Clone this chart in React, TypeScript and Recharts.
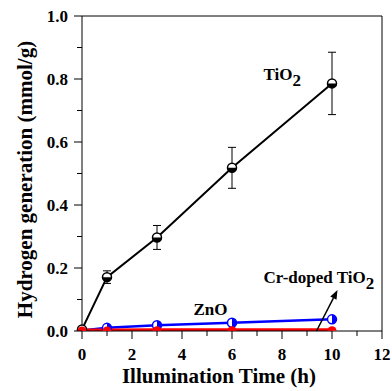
import React from 'react';
import {
  ComposedChart,
  Line,
  XAxis,
  YAxis,
  ErrorBar,
  ReferenceLine,
  ReferenceDot
} from 'recharts';

const hours = [0, 1, 3, 6, 10];
const tio2 = [0.005, 0.171, 0.297, 0.518, 0.786];
const tio2Err = [0, 0.02, 0.038, 0.065, 0.099];
const zno = [0.002, 0.01, 0.018, 0.026, 0.037];
const crTio2 = [0.003, 0.003, 0.004, 0.004, 0.004];

const xTicks = [0, 1, 2, 3, 4, 5, 6, 7, 8, 9, 10, 11, 12];
const xMajor = [0, 2, 4, 6, 8, 10, 12];
const yTicks = [0, 0.1, 0.2, 0.3, 0.4, 0.5, 0.6, 0.7, 0.8, 0.9, 1.0];
const yMajor = ['0.0', '0.2', '0.4', '0.6', '0.8', '1.0'];

const data = hours.map((h, i) => ({
  h,
  tio2: tio2[i],
  err: tio2Err[i],
  zno: zno[i],
  cr: crTio2[i]
}));

const txt = { fontFamily: 'Liberation Serif', fontWeight: 700 } as React.CSSProperties;
const TICK_SIZE = 6;
const TICK_MARGIN = 3;

const XTick = (props: any) => {
  const { x, y, payload } = props;
  const axisY = y - TICK_SIZE - TICK_MARGIN;
  const major = xMajor.includes(payload.value);
  return (
    <g>
      <line x1={x} x2={x} y1={axisY} y2={axisY + (major ? 8 : 5)} stroke="#000" strokeWidth={1} />
      {major && (
        <text x={x} y={axisY + 29} textAnchor="middle" style={{ ...txt, fontSize: 17 }} fill="#000">
          {payload.value}
        </text>
      )}
    </g>
  );
};

const YTick = (props: any) => {
  const { x, y, payload } = props;
  const axisX = x + TICK_SIZE + TICK_MARGIN;
  const label = Number(payload.value).toFixed(1);
  const major = yMajor.includes(label);
  return (
    <g>
      <line x1={axisX - (major ? 8 : 5)} x2={axisX} y1={y} y2={y} stroke="#000" strokeWidth={1} />
      {major && (
        <text x={axisX - 14} y={y + 5.5} textAnchor="end" style={{ ...txt, fontSize: 17 }} fill="#000">
          {label}
        </text>
      )}
    </g>
  );
};

const halfDot = (color: string, vertical: boolean) => (props: any) => {
  const { cx, cy, index } = props;
  if (cx == null || cy == null) return <g key={index} />;
  const r = 4.5;
  const path = vertical
    ? `M${cx - r},${cy} A${r},${r} 0 0 0 ${cx + r},${cy} Z`
    : `M${cx},${cy - r} A${r},${r} 0 0 1 ${cx},${cy + r} Z`;
  return (
    <g key={index}>
      <circle cx={cx} cy={cy} r={r} fill="#fff" stroke={color} strokeWidth={1.5} />
      <path d={path} fill={color} />
    </g>
  );
};

// red markers sit on the axis, only their upper half shows
const redDot = (props: any) => {
  const { cx, cy, index } = props;
  if (cx == null || cy == null) return <g key={index} />;
  const r = 4.5;
  return <path key={index} d={`M${cx - r},${cy + 1} A${r},${r} 0 0 1 ${cx + r},${cy + 1} Z`} fill="#ff0000" />;
};

const Arrow = (props: any) => {
  const { x1, y1, x2, y2 } = props;
  const ang = Math.atan2(y2 - y1, x2 - x1);
  const len = 9;
  const w = 3.5;
  const bx = x2 - len * Math.cos(ang);
  const by = y2 - len * Math.sin(ang);
  const px = -Math.sin(ang) * w;
  const py = Math.cos(ang) * w;
  return (
    <g>
      <line x1={x1} y1={y1} x2={bx} y2={by} stroke="#000" strokeWidth={1.5} />
      <polygon points={`${x2},${y2} ${bx + px},${by + py} ${bx - px},${by - py}`} fill="#000" />
    </g>
  );
};

const annot = (main: string, sub?: string) => (props: any) => {
  const { cx, cy } = props;
  return (
    <text x={cx} y={cy} style={{ ...txt, fontSize: 17 }} fill="#000">
      {main}
      {sub && <tspan dy={6}>{sub}</tspan>}
    </text>
  );
};

export default function App() {
  return (
    <div style={{ position: 'absolute', left: 0, top: 0, background: '#fff' }}>
      <ComposedChart width={392} height={391} data={data} margin={{ top: 16, right: 10, bottom: 0, left: 0 }}>
        <XAxis
          dataKey="h"
          type="number"
          domain={[0, 12]}
          ticks={xTicks}
          interval={0}
          height={60}
          stroke="#000"
          tickLine={false}
          tickSize={TICK_SIZE}
          tickMargin={TICK_MARGIN}
          tick={<XTick />}
          label={{
            position: 'insideBottom',
            content: (p: any) => {
              const vb = p.viewBox;
              return (
                <text x={vb.x + vb.width / 2 - 13} y={vb.y + vb.height - 8} textAnchor="middle" style={{ ...txt, fontSize: 21 }} fill="#000">
                  Illumination Time (h)
                </text>
              );
            }
          }}
        />
        <YAxis
          type="number"
          domain={[0, 1]}
          ticks={yTicks}
          interval={0}
          width={82}
          stroke="#000"
          allowDataOverflow
          tickLine={false}
          tickSize={TICK_SIZE}
          tickMargin={TICK_MARGIN}
          tick={<YTick />}
          label={{
            position: 'insideLeft',
            content: (p: any) => {
              const vb = p.viewBox;
              const cx = 25;
              const cy = vb.y + vb.height / 2 + 6;
              return (
                <text x={cx} y={cy} transform={`rotate(-90 ${cx} ${cy})`} textAnchor="middle" dominantBaseline="central" style={{ ...txt, fontSize: 21 }} fill="#000">
                  Hydrogen generation (mmol/g)
                </text>
              );
            }
          }}
        />
        <ReferenceLine y={1} stroke="#000" strokeWidth={1} ifOverflow="visible" />
        <ReferenceLine x={12} stroke="#000" strokeWidth={1} ifOverflow="visible" />
        <Line dataKey="zno" stroke="#0000ff" strokeWidth={2.5} dot={halfDot('#0000ff', false)} isAnimationActive={false} />
        <Line dataKey="tio2" stroke="#000" strokeWidth={2} dot={halfDot('#000', true)} isAnimationActive={false}>
          <ErrorBar dataKey="err" direction="y" width={4} stroke="#000" strokeWidth={1} />
        </Line>
        <Line dataKey="cr" stroke="#ff0000" strokeWidth={3} dot={redDot} isAnimationActive={false} />
        <ReferenceLine
          segment={[{ x: 9.38, y: 0 }, { x: 10.22, y: 0.13 }]}
          ifOverflow="visible"
          shape={<Arrow />}
        />
        <ReferenceDot x={7.26} y={0.797} r={0} ifOverflow="visible" shape={annot('TiO', '2')} />
        <ReferenceDot x={7.26} y={0.152} r={0} ifOverflow="visible" shape={annot('Cr-doped TiO', '2')} />
        <ReferenceDot x={4.46} y={0.051} r={0} ifOverflow="visible" shape={annot('ZnO')} />
      </ComposedChart>
    </div>
  );
}
